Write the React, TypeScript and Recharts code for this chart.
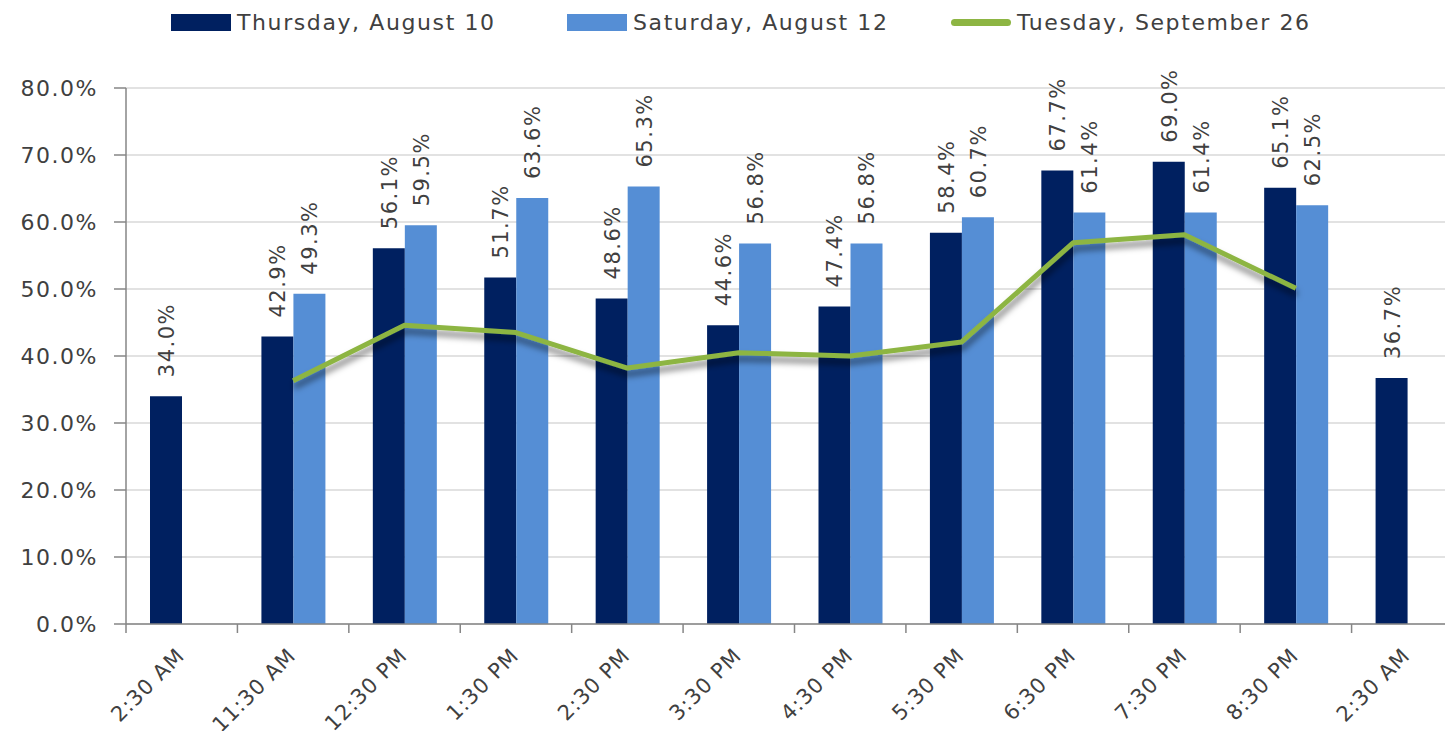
import { ComposedChart, Bar, Line, XAxis, YAxis, CartesianGrid, LabelList } from "recharts";

const FONT = "'DejaVu Sans', Verdana, sans-serif";
const TEXT = "#404040";
const NAVY = "#002060";
const BLUE = "#558ED5";
const GREEN = "#8DB543";
const AXIS = "#868686";
const GRID = "#D9D9D9";

const W = 1470;
const H = 739;
const PLOT_LEFT = 126;
const PLOT_RIGHT = 1463;
const BAND = (PLOT_RIGHT - PLOT_LEFT) / 12;

const times = ["2:30 AM", "11:30 AM", "12:30 PM", "1:30 PM", "2:30 PM", "3:30 PM", "4:30 PM", "5:30 PM", "6:30 PM", "7:30 PM", "8:30 PM", "2:30 AM"];
const thursday = [34.0, 42.9, 56.1, 51.7, 48.6, 44.6, 47.4, 58.4, 67.7, 69.0, 65.1, 36.7];
const saturday = [null, 49.3, 59.5, 63.6, 65.3, 56.8, 56.8, 60.7, 61.4, 61.4, 62.5, null];
const tuesday = [null, 36.3, 44.6, 43.5, 38.2, 40.5, 40.0, 42.1, 56.9, 58.1, 50.1, null];
const yTicks = [0, 10, 20, 30, 40, 50, 60, 70, 80];

const data = times.map((t, i) => ({ time: t, thu: thursday[i], sat: saturday[i], tue: tuesday[i] }));

const pct = (v: number) => `${v.toFixed(1)}%`;

function BarLabel(props: any) {
  const { x, y, width, value } = props;
  if (value == null) return null;
  const cx = x + width / 2 + 8;
  const cy = y - 19;
  return (
    <text
      x={cx}
      y={cy}
      transform={`rotate(-90, ${cx}, ${cy})`}
      textAnchor="start"
      fill={TEXT}
      fontSize={21}
      letterSpacing={1.5}
      fontFamily={FONT}
    >
      {pct(value)}
    </text>
  );
}

function TimeTick(props: any) {
  const { x, y, payload } = props;
  const px = x + 4;
  const py = y + 33;
  return (
    <g>
      <line x1={x - BAND / 2} x2={x - BAND / 2} y1={y} y2={y + 9} stroke={AXIS} strokeWidth={1.5} />
      <text
        x={px}
        y={py}
        transform={`rotate(-45, ${px}, ${py})`}
        textAnchor="end"
        fill={TEXT}
        fontSize={21}
        letterSpacing={1}
        fontFamily={FONT}
      >
        {payload.value}
      </text>
    </g>
  );
}

function LegendItem({ left, kind, color, label }: { left: number; kind: "bar" | "line"; color: string; label: string }) {
  return (
    <div style={{ position: "absolute", left, top: 8, display: "flex", alignItems: "center", height: 28 }}>
      {kind === "bar" ? (
        <div style={{ width: 60, height: 17, background: color }} />
      ) : (
        <div style={{ width: 60, height: 7, borderRadius: 4, background: color }} />
      )}
      <span style={{ marginLeft: 6, fontFamily: FONT, fontSize: 22, letterSpacing: 1.6, color: TEXT, whiteSpace: "nowrap" }}>
        {label}
      </span>
    </div>
  );
}

export default function App() {
  return (
    <div style={{ position: "relative", margin: -8, width: 1453, height: H, overflow: "hidden", background: "#fff" }}>
      <svg width={0} height={0} style={{ position: "absolute" }}>
        <defs>
          <filter id="lineShadow" x="-10%" y="-40%" width="120%" height="180%">
            <feDropShadow dx={1} dy={6} stdDeviation={3} floodColor="#000" floodOpacity={0.5} />
          </filter>
        </defs>
      </svg>
      <LegendItem left={171} kind="bar" color={NAVY} label="Thursday, August 10" />
      <LegendItem left={567} kind="bar" color={BLUE} label="Saturday, August 12" />
      <LegendItem left={951} kind="line" color={GREEN} label="Tuesday, September 26" />
      <ComposedChart
        width={W}
        height={H}
        data={data}
        margin={{ top: 88, right: W - PLOT_RIGHT, bottom: 0, left: 0 }}
        barGap={0}
        style={{ position: "absolute", left: 0, top: 0 }}
      >
        <CartesianGrid stroke={GRID} strokeWidth={1.5} vertical={false} />
        <XAxis
          dataKey="time"
          interval={0}
          height={H - 624}
          tickSize={0}
          tickMargin={0}
          tickLine={false}
          stroke={AXIS}
          strokeWidth={1.5}
          tick={<TimeTick />}
        />
        <YAxis
          domain={[0, 80]}
          ticks={yTicks}
          width={PLOT_LEFT}
          tickSize={12}
          tickMargin={16}
          stroke={AXIS}
          strokeWidth={1.5}
          tickFormatter={pct}
          tick={{ fill: TEXT, fontSize: 22, fontFamily: FONT, letterSpacing: 1.5 }}
        />
        <Bar dataKey="thu" fill={NAVY} barSize={32} isAnimationActive={false}>
          <LabelList dataKey="thu" content={<BarLabel />} />
        </Bar>
        <Bar dataKey="sat" fill={BLUE} barSize={32} isAnimationActive={false}>
          <LabelList dataKey="sat" content={<BarLabel />} />
        </Bar>
        <Line
          dataKey="tue"
          stroke={GREEN}
          strokeWidth={5}
          dot={false}
          activeDot={false}
          strokeLinejoin="round"
          filter="url(#lineShadow)"
          isAnimationActive={false}
        />
      </ComposedChart>
    </div>
  );
}
